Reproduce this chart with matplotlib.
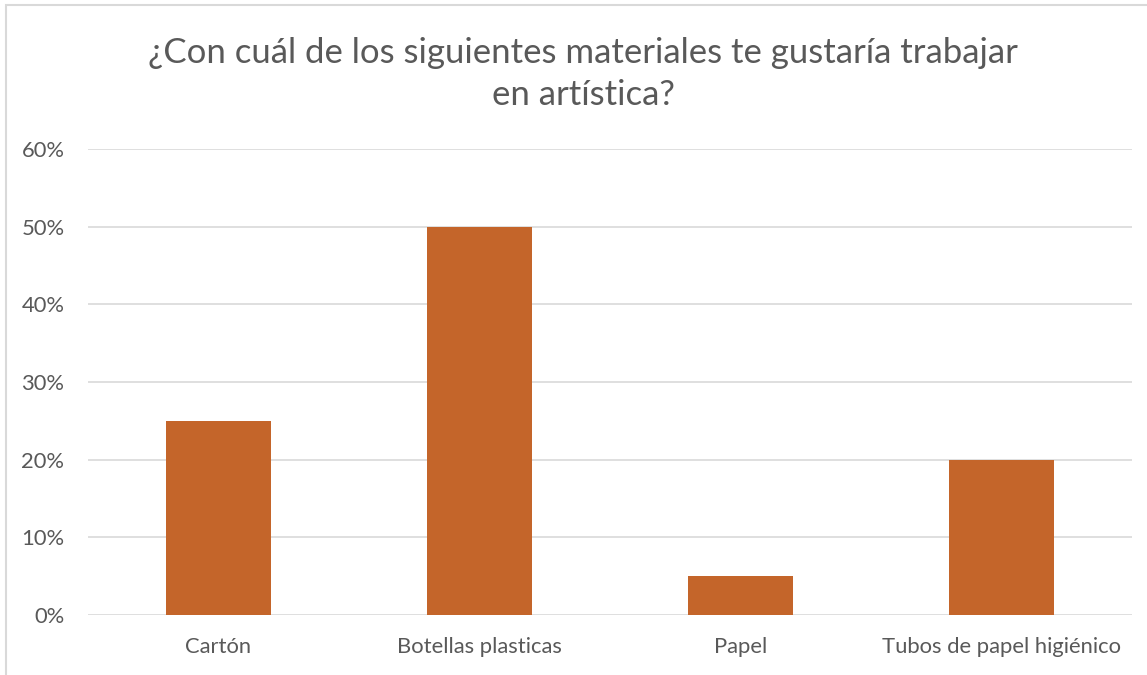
import matplotlib

matplotlib.use("Agg")
import matplotlib.pyplot as plt
from matplotlib.patches import Rectangle

categories = ["Cartón", "Botellas plasticas", "Papel", "Tubos de papel higiénico"]
values = [0.25, 0.50, 0.05, 0.20]
yticks = [0.0, 0.1, 0.2, 0.3, 0.4, 0.5, 0.6]
ytick_labels = ["0%", "10%", "20%", "30%", "40%", "50%", "60%"]
title = "¿Con cuál de los siguientes materiales te gustaría trabajar\nen artística?"

W, H = 1147, 675
BAR = "#C4652A"
TXT = "#595959"
GRID = "#D9D9D9"

plt.rcParams["font.family"] = ["Lato", "DejaVu Sans"]

fig = plt.figure(figsize=(W / 100, H / 100), dpi=100)
# outer chart border (light gray)
fig.patches.append(Rectangle((6 / W, -0.01), 1.2, (H - 5) / H + 0.01,
                             transform=fig.transFigure, fill=False,
                             edgecolor=GRID, lw=1.5))

ax = fig.add_axes([88 / W, (H - 615) / H, (1132 - 88) / W, (615 - 149) / H])
x = range(len(categories))
ax.bar(x, values, width=0.4, color=BAR, zorder=3)
ax.set_xlim(-0.5, len(categories) - 0.5)
ax.set_ylim(0, 0.6)
ax.set_yticks(yticks)
ax.set_yticklabels(ytick_labels)
ax.set_xticks(list(x))
ax.set_xticklabels(categories)
ax.tick_params(length=0, labelsize=15.8, colors=TXT)
ax.tick_params(axis="y", pad=17)
ax.tick_params(axis="x", pad=16)
ax.grid(axis="y", color=GRID, lw=1.2, zorder=0)
for s in ax.spines.values():
    s.set_visible(False)

fig.text(583 / W, 1 - 74 / H, title, ha="center", va="center",
         fontsize=25, color=TXT, linespacing=1.35)

fig.savefig("out.png", dpi=100)
